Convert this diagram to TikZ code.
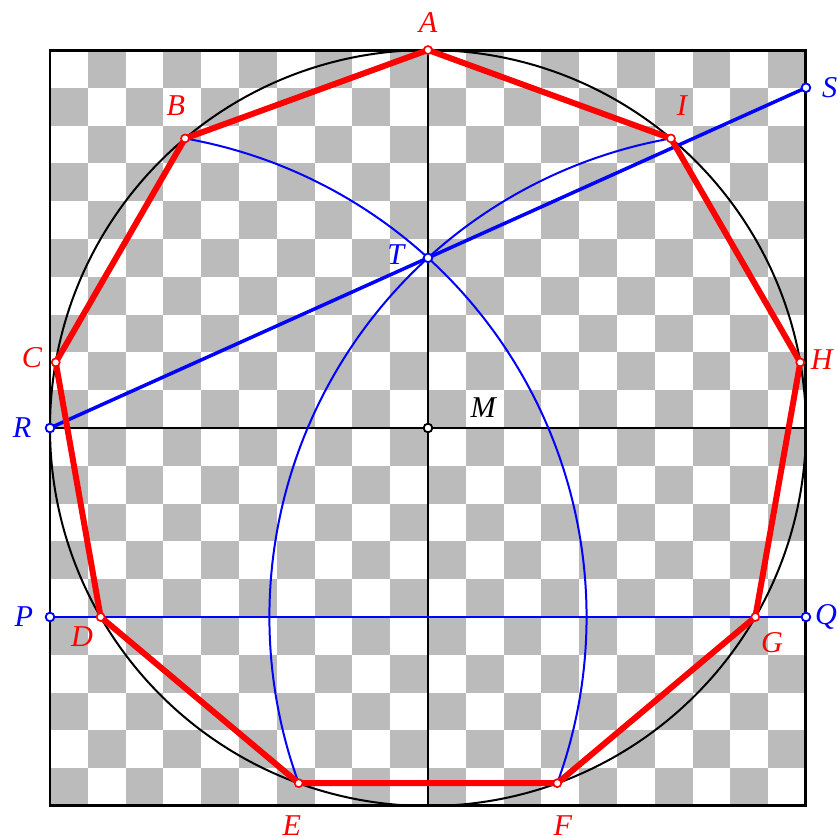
\documentclass[tikz,border=0pt]{standalone}
\usepackage{fontspec}
\setmainfont{Liberation Serif}
\definecolor{chk}{RGB}{187,187,187}
\definecolor{redc}{RGB}{255,0,0}
\definecolor{bluec}{RGB}{0,0,255}
\begin{document}
\begin{tikzpicture}[x=4cm,y=4cm,
  lbl/.style={font=\fontsize{9.1}{11}\selectfont\itshape, inner sep=0pt},
  redlbl/.style={lbl, text=redc},
  bluelbl/.style={lbl, text=bluec},
  poly/.style={draw=redc, line width=1.8pt, line join=round},
  arcline/.style={draw=bluec, line width=0.6pt},
  axis/.style={draw=black, line width=0.75pt},
  dotr/.style={circle, draw=redc, fill=white, line width=0.5pt, inner sep=0pt, minimum size=2.4pt},
  dotb/.style={circle, draw=bluec, fill=white, line width=0.55pt, inner sep=0pt, minimum size=2.6pt},
  dotk/.style={circle, draw=black, fill=white, line width=0.55pt, inner sep=0pt, minimum size=2.6pt}]
\useasboundingbox (-1.1323,-1.0847) rectangle (1.0847,1.1323);
% checkerboard
\foreach \i in {0,...,19}{\foreach \j in {0,...,19}{%
  \pgfmathtruncatemacro\s{mod(\i+\j,2)}%
  \ifnum\s=1 \fill[chk] (-1+0.1*\i,1-0.1*\j) rectangle ++(0.1,-0.1);\fi}}
\draw[line width=0.9pt] (-1,-1) rectangle (1,1);
% coordinates
\foreach \n/\a in {A/90,B/130,C/170,D/210,E/250,F/290,G/330,H/10,I/50}
  \coordinate (\n) at (\a:1);
\coordinate (M) at (0,0);
\coordinate (R) at (-1,0);
\coordinate (Rr) at (1,0);
\coordinate (Bot) at (0,-1);
\coordinate (P) at (-1,-0.5);
\coordinate (Q) at (1,-0.5);
\coordinate (T) at (0,0.450107);
\coordinate (S) at (1,0.900214);
% circle and axes
\draw[line width=0.6pt] (M) circle[radius=1];
\draw[axis] (A) -- (Bot);
\draw[axis] (R) -- (Rr);
% blue construction
\draw[arcline] (B) arc[start angle=80, end angle=-20, radius={2*sin(40)}];
\draw[arcline] (I) arc[start angle=100, end angle=200, radius={2*sin(40)}];
\draw[draw=bluec, line width=0.75pt] (P) -- (Q);
\draw[draw=bluec, line width=1.05pt] (R) -- (S);
% nonagon
\draw[poly] (A) -- (B) -- (C) -- (D) -- (E) -- (F) -- (G) -- (H) -- (I) -- cycle;
% dots
\foreach \n in {A,B,C,D,E,F,G,H,I} \node[dotr] at (\n) {};
\foreach \n in {P,Q,R,S,T} \node[dotb] at (\n) {};
\node[dotk] at (M) {};
% labels
\node[redlbl] (lA) at (0,1.074) {A};
\node[redlbl] (lB) at (-0.667,0.854) {B};
\node[redlbl] (lI) at (0.672,0.854) {I};
\node[redlbl] (lC) at (-1.048,0.185) {C};
\node[redlbl] (lH) at (1.042,0.180) {H};
\node[redlbl] (lD) at (-0.915,-0.553) {D};
\node[redlbl] (lG) at (0.910,-0.569) {G};
\node[redlbl] (lE) at (-0.360,-1.053) {E};
\node[redlbl] (lF) at (0.357,-1.053) {F};
\node[bluelbl] (lP) at (-1.069,-0.5) {P};
\node[bluelbl] (lQ) at (1.053,-0.5) {Q};
\node[bluelbl] (lR) at (-1.074,0) {R};
\node[bluelbl] (lS) at (1.063,0.9) {S};
\node[bluelbl] (lT) at (-0.085,0.458) {T};
\node[lbl] (lM) at (0.146,0.053) {M};
\end{tikzpicture}
\end{document}
